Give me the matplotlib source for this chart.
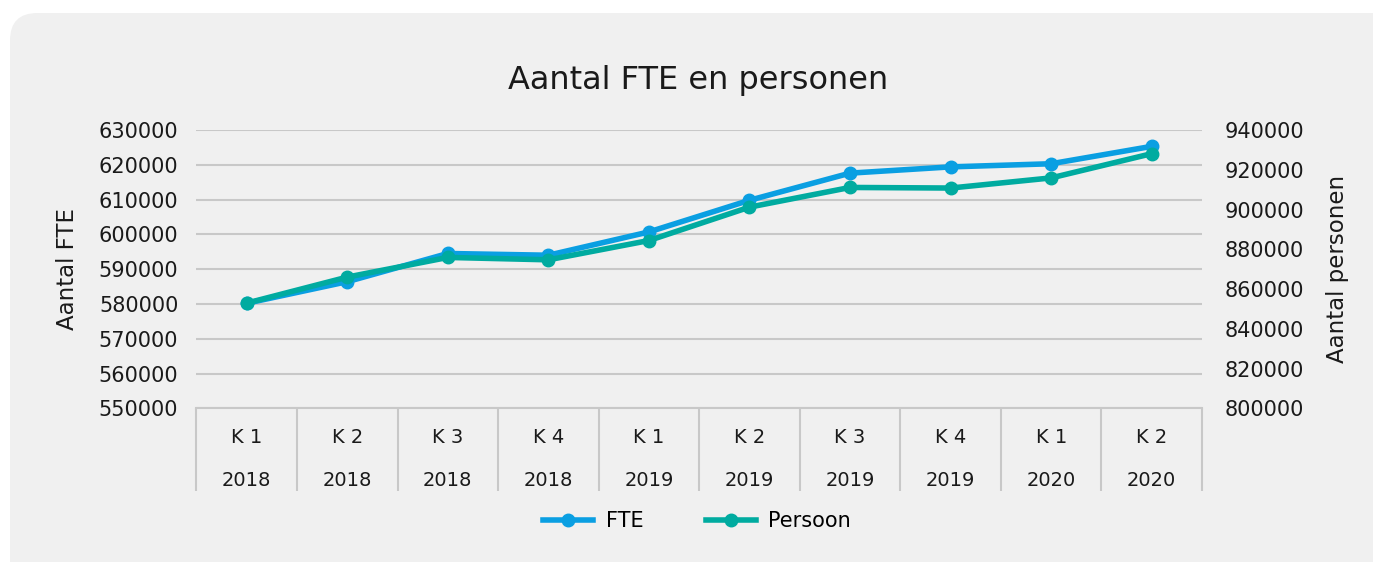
import matplotlib
matplotlib.use("Agg")
import matplotlib.pyplot as plt
from matplotlib.patches import FancyBboxPatch
from matplotlib.lines import Line2D
import matplotlib.transforms as mtransforms

quarters = ["K 1", "K 2", "K 3", "K 4", "K 1", "K 2", "K 3", "K 4", "K 1", "K 2"]
years = ["2018", "2018", "2018", "2018", "2019", "2019", "2019", "2019", "2020", "2020"]
fte = [580200, 586400, 594500, 594000, 600700, 609800, 617600, 619400, 620300, 625300]
persoon = [852900, 866000, 875900, 874700, 884400, 901200, 911100, 910800, 915900, 928100]

left_ticks = [550000, 560000, 570000, 580000, 590000, 600000, 610000, 620000, 630000]
right_ticks = [800000, 820000, 840000, 860000, 880000, 900000, 920000, 940000]

BLUE = "#0A9FE2"
TEAL = "#00ABA0"
GRID = "#C8C8C8"
BG = "#F0F0F0"
TXT = "#1A1A1A"

plt.rcParams['font.family'] = ['DejaVu Sans']

fig = plt.figure(figsize=(13.73, 5.62), dpi=100)
fig.patch.set_facecolor("white")

bg = FancyBboxPatch((10 / 1373, -0.2), 1.2, 0.2 + (562 - 13) / 562,
                    boxstyle="round,pad=0,rounding_size=0.02",
                    transform=fig.transFigure, facecolor=BG, edgecolor="none",
                    mutation_aspect=1373 / 562, zorder=-5)
fig.patches.append(bg)

ax = fig.add_axes([196.4 / 1373, 1 - 408.3 / 562, (1202 - 196.4) / 1373, (408.3 - 130) / 562])
ax.set_facecolor("none")
ax2 = ax.twinx()

x = list(range(len(quarters)))

ax.set_xlim(-0.5, len(quarters) - 0.5)
ax.set_ylim(left_ticks[0], left_ticks[-1])
ax2.set_ylim(right_ticks[0], right_ticks[-1])

ax.set_yticks(left_ticks)
ax.set_yticklabels([str(t) for t in left_ticks])
ax2.set_yticks(right_ticks)
ax2.set_yticklabels([str(t) for t in right_ticks])

for a in (ax, ax2):
    for s in a.spines.values():
        s.set_visible(False)
    a.tick_params(axis="y", length=0, labelsize=15, colors=TXT)
ax.tick_params(axis="y", pad=13)
ax2.tick_params(axis="y", pad=16)

ax.grid(axis="y", color=GRID, linewidth=1.5)
ax.spines["bottom"].set_visible(True)
ax.spines["bottom"].set_color(GRID)
ax.spines["bottom"].set_linewidth(1.5)

# category separators
ax.set_xticks([i - 0.5 for i in range(len(quarters) + 1)])
ax.set_xticklabels([])
ax.tick_params(axis="x", length=60, width=1.5, color=GRID, direction="out")

trans = mtransforms.blended_transform_factory(ax.transData, ax.transAxes)
for i in x:
    ax.text(i, -0.105, quarters[i], transform=trans, ha="center", va="center",
            fontsize=14, color=TXT)
    ax.text(i, -0.258, years[i], transform=trans, ha="center", va="center",
            fontsize=14, color=TXT)

ax.plot(x, fte, color=BLUE, linewidth=4, marker="o", markersize=9,
        solid_capstyle="round", solid_joinstyle="round", zorder=3)
ax2.plot(x, persoon, color=TEAL, linewidth=4, marker="o", markersize=9,
         solid_capstyle="round", solid_joinstyle="round", zorder=3)

ax.set_ylabel("Aantal FTE", fontsize=16.5, color=TXT, labelpad=14)
ax2.set_ylabel("Aantal personen", fontsize=16.5, color=TXT, labelpad=16)

fig.text(698 / 1373, 1 - 80 / 562, "Aantal FTE en personen", ha="center", va="center",
         fontsize=23, color=TXT)

handles = [Line2D([0], [0], color=BLUE, linewidth=4, marker="o", markersize=9),
           Line2D([0], [0], color=TEAL, linewidth=4, marker="o", markersize=9)]
fig.legend(handles, ["FTE", "Persoon"], loc="center", bbox_to_anchor=(697 / 1373, 1 - 521 / 562),
           ncol=2, frameon=False, fontsize=15, handlelength=2.4, columnspacing=3.0,
           handletextpad=0.6)

fig.savefig("out.png", dpi=100, facecolor=fig.get_facecolor())
